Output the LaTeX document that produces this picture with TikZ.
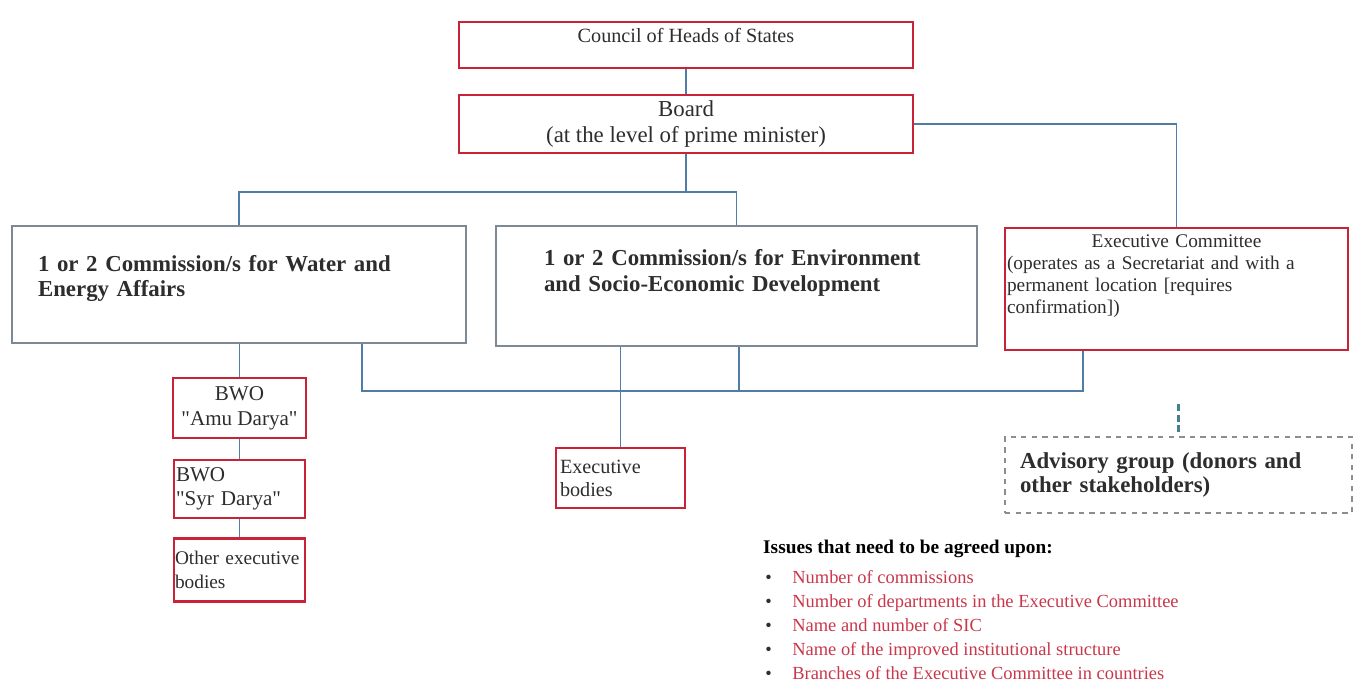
\documentclass[tikz,border=0pt]{standalone}
\usepackage{fontspec}
\setmainfont{Liberation Serif}
\usepackage{tikz}
\definecolor{boxred}{RGB}{200,35,55}
\definecolor{boxgray}{RGB}{125,138,150}
\definecolor{linkblue}{RGB}{80,125,165}
\definecolor{dashteal}{RGB}{70,130,140}
\definecolor{advgray}{RGB}{140,140,145}
\definecolor{textdark}{RGB}{45,45,45}
\definecolor{issuered}{RGB}{200,55,75}

\begin{document}
\begin{tikzpicture}[x=0.02cm, y=-0.02cm, node distance=1.62cm,
  redbox/.style={draw=boxred, line width=1.3pt, text=textdark, inner sep=1pt},
  graybox/.style={draw=boxgray, line width=1pt, text=textdark},
  link/.style={draw=linkblue, line width=0.9pt},
  issue/.style={anchor=base west, inner sep=0pt, text=issuered, font=\fontsize{10.5}{12}\selectfont}]
\useasboundingbox (0,0) rectangle (1355,687);

\node (council)[redbox, minimum width=9.08cm, minimum height=0.92cm, text depth=11.5pt, font=\fontsize{11.5}{13}\selectfont] at (686,45) {Council of Heads of States};
\node (board)[redbox, minimum width=9.08cm, minimum height=1.16cm, align=center, font=\fontsize{13}{15.3}\selectfont] at (686,124) {Board\\(at the level of prime minister)};
\node (water)[graybox, minimum width=9.08cm, minimum height=2.34cm, inner xsep=0.52cm, text width=8.04cm, align=left, text depth=24pt, font=\bfseries\fontsize{13}{14.3}\selectfont] at (239,284.5) {1 or 2 Commission/s for Water and\\Energy Affairs};
\node (env)[graybox, minimum width=9.62cm, minimum height=2.4cm, inner xsep=0.96cm, text width=7.7cm, align=left, text depth=32pt, font=\bfseries\fontsize{13}{14.3}\selectfont] at (736.5,286) {1 or 2 Commission/s for Environment\\and Socio-Economic Development};
\node (excom)[redbox, minimum width=6.86cm, minimum height=2.44cm, inner xsep=0.04cm, text width=6.78cm, align=left, text depth=54pt, font=\fontsize{11}{12.5}\selectfont] at (1176.5,289) {\makebox[6.78cm]{Executive Committee}\\(operates as a Secretariat and with a\\permanent location [requires\\confirmation])};
\node (adv)[draw=advgray, dashed, line width=0.8pt, text=textdark, minimum width=6.94cm, minimum height=1.52cm, inner xsep=0.3cm, text width=6.34cm, align=left, font=\bfseries\fontsize{13}{13.6}\selectfont] at (1178.5,475) {Advisory group (donors and\\other stakeholders)};
\node (amu)[redbox, minimum width=2.66cm, minimum height=1.2cm, align=center, font=\fontsize{12}{14}\selectfont] at (239.5,408) {BWO\\\textquotedbl Amu Darya\textquotedbl};
\node (syr)[redbox, minimum width=2.62cm, minimum height=1.16cm, inner xsep=0.04cm, text width=2.54cm, align=left, font=\fontsize{12}{14}\selectfont] [below of=amu] {BWO\\\textquotedbl Syr Darya\textquotedbl};
\node (other)[redbox, minimum width=2.62cm, minimum height=1.26cm, inner xsep=0.02cm, text width=2.58cm, align=left, font=\fontsize{11}{14}\selectfont] [below of=syr] {Other executive\\bodies};
\node (exb)[redbox, minimum width=2.58cm, minimum height=1.2cm, inner xsep=0.08cm, text width=2.42cm, align=left, font=\fontsize{11.5}{13}\selectfont] at (620.5,478) {Executive\\bodies};

\node (issues)[anchor=west, text=black, font=\bfseries\fontsize{11}{13}\selectfont] at (757,549) {Issues that need to be agreed upon:};
\node (i1)[issue] at (765,583) {\makebox[0.54cm][l]{\textcolor{textdark}{•}}Number of commissions};
\node (i2)[issue] at (765,607) {\makebox[0.54cm][l]{\textcolor{textdark}{•}}Number of departments in the Executive Committee};
\node (i3)[issue] at (765,631) {\makebox[0.54cm][l]{\textcolor{textdark}{•}}Name and number of SIC};
\node (i4)[issue] at (765,655) {\makebox[0.54cm][l]{\textcolor{textdark}{•}}Name of the improved institutional structure};
\node (i5)[issue] at (765,679) {\makebox[0.54cm][l]{\textcolor{textdark}{•}}Branches of the Executive Committee in countries};

\coordinate (top) at (686,192);
\coordinate (busl) at (362,391);
\coordinate (busm) at (739,391);
\coordinate (busr) at (1083,391);

\draw[link] (council) -- (board);
\draw[link] (board) -- (top);
\draw[link] (water.north) |- (top) -| (env.north);
\draw[link] (board.east) -| (excom.north);
\draw[link] (amu.north |- water.south) -- (amu.north);
\draw[link] (amu.south) -- (amu.south |- syr.north);
\draw[link] (syr.south) -- (other.north);
\draw[link] (busl |- water.south) -- (busl) -- (busr) -- (busr |- excom.south);
\draw[link] (busm |- env.south) -- (busm);
\draw[link] (exb.north |- env.south) -- (exb.north);
\draw[draw=dashteal, line width=1.2pt, dash pattern=on 4pt off 2pt] ([yshift=0.08cm]adv.north) -- ([yshift=0.64cm]adv.north);

\end{tikzpicture}
\end{document}
